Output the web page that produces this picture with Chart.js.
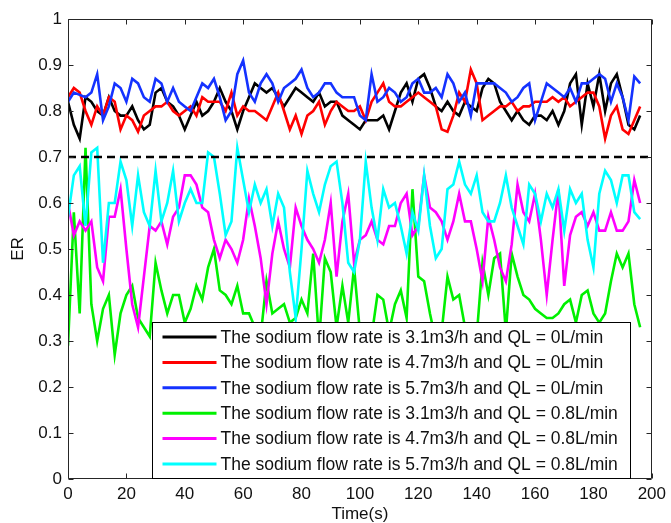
<!DOCTYPE html>
<html><head><meta charset="utf-8">
<script src="https://cdn.jsdelivr.net/npm/chart.js@4.4.1/dist/chart.umd.min.js"></script>
<style>html,body{margin:0;padding:0;background:#fff;overflow:hidden}</style>
</head><body>
<canvas id="c" width="671" height="523"></canvas>
<script>
const time = [0,2,4,6,8,10,12,14,16,18,20,22,24,26,28,30,32,34,36,38,40,42,44,46,48,50,52,54,56,58,60,62,64,66,68,70,72,74,76,78,80,82,84,86,88,90,92,94,96,98,100,102,104,106,108,110,112,114,116,118,120,122,124,126,128,130,132,134,136,138,140,142,144,146,148,150,152,154,156,158,160,162,164,166,168,170,172,174,176,178,180,182,184,186,188,190,192,194,196];

const black31 = [0.82,0.77,0.74,0.83,0.82,0.80,0.79,0.83,0.80,0.79,
0.79,0.81,0.78,0.76,0.77,0.84,0.85,0.82,0.81,0.79,
0.76,0.79,0.82,0.79,0.80,0.82,0.85,0.82,0.80,0.76,
0.80,0.83,0.86,0.85,0.84,0.85,0.83,0.81,0.83,0.85,
0.84,0.83,0.82,0.84,0.81,0.82,0.82,0.79,0.78,0.77,
0.76,0.78,0.78,0.78,0.79,0.76,0.80,0.84,0.86,0.82,
0.87,0.88,0.85,0.81,0.80,0.82,0.80,0.79,0.82,0.81,
0.80,0.85,0.87,0.86,0.82,0.80,0.78,0.80,0.78,0.77,
0.79,0.79,0.78,0.80,0.77,0.80,0.86,0.88,0.77,0.86,
0.81,0.88,0.80,0.86,0.88,0.83,0.77,0.76,0.79];

const red47 = [0.83,0.85,0.84,0.80,0.77,0.81,0.79,0.83,0.82,0.76,
0.79,0.78,0.755,0.79,0.80,0.81,0.81,0.82,0.80,0.79,
0.80,0.81,0.79,0.83,0.82,0.82,0.82,0.80,0.84,0.79,
0.81,0.80,0.80,0.79,0.78,0.81,0.84,0.80,0.76,0.79,
0.75,0.79,0.80,0.82,0.77,0.80,0.82,0.81,0.80,0.80,
0.81,0.78,0.82,0.84,0.86,0.82,0.81,0.81,0.82,0.83,
0.84,0.83,0.82,0.81,0.76,0.755,0.79,0.84,0.82,0.89,
0.86,0.78,0.79,0.80,0.81,0.81,0.82,0.80,0.81,0.81,
0.82,0.82,0.82,0.83,0.82,0.83,0.81,0.82,0.83,0.84,
0.84,0.81,0.74,0.79,0.81,0.76,0.75,0.78,0.81];

const blue57 = [0.82,0.84,0.835,0.83,0.84,0.88,0.78,0.81,0.86,0.85,
0.82,0.87,0.86,0.83,0.82,0.87,0.86,0.82,0.85,0.82,
0.81,0.80,0.83,0.86,0.85,0.87,0.83,0.78,0.80,0.88,
0.91,0.84,0.82,0.86,0.88,0.86,0.82,0.85,0.86,0.87,
0.89,0.85,0.83,0.84,0.86,0.86,0.84,0.83,0.83,0.83,
0.79,0.78,0.88,0.82,0.83,0.85,0.84,0.82,0.83,0.86,
0.87,0.84,0.84,0.85,0.83,0.88,0.86,0.82,0.84,0.79,
0.86,0.86,0.86,0.86,0.85,0.84,0.82,0.83,0.85,0.86,
0.78,0.82,0.86,0.85,0.84,0.83,0.85,0.82,0.86,0.86,
0.87,0.88,0.87,0.82,0.86,0.83,0.78,0.875,0.86];

const green31 = [0.29,0.58,0.36,0.72,0.38,0.30,0.37,0.40,0.27,0.36,
0.40,0.42,0.35,0.33,0.31,0.47,0.41,0.36,0.40,0.40,
0.34,0.37,0.42,0.39,0.46,0.50,0.41,0.40,0.38,0.42,
0.36,0.36,0.33,0.31,0.43,0.36,0.37,0.38,0.34,0.35,
0.39,0.36,0.49,0.30,0.48,0.45,0.33,0.42,0.34,0.46,
0.32,0.30,0.31,0.40,0.39,0.32,0.38,0.41,0.35,0.63,
0.44,0.43,0.36,0.30,0.32,0.44,0.39,0.40,0.33,0.30,
0.31,0.47,0.40,0.48,0.49,0.32,0.49,0.44,0.40,0.39,
0.37,0.36,0.35,0.35,0.36,0.38,0.39,0.34,0.40,0.41,
0.36,0.34,0.36,0.43,0.49,0.46,0.49,0.38,0.33];

const magenta47 = [0.60,0.53,0.56,0.54,0.56,0.46,0.43,0.57,0.57,0.63,
0.50,0.38,0.33,0.44,0.55,0.54,0.56,0.51,0.57,0.59,
0.66,0.66,0.64,0.59,0.58,0.52,0.48,0.52,0.50,0.47,
0.52,0.61,0.55,0.48,0.38,0.49,0.56,0.50,0.46,0.59,
0.55,0.52,0.50,0.47,0.52,0.60,0.44,0.56,0.62,0.47,
0.52,0.53,0.56,0.52,0.51,0.55,0.55,0.60,0.62,0.53,
0.55,0.66,0.59,0.58,0.56,0.52,0.56,0.62,0.56,0.56,
0.50,0.43,0.57,0.52,0.46,0.43,0.51,0.64,0.58,0.56,
0.62,0.52,0.40,0.52,0.63,0.42,0.53,0.57,0.58,0.55,
0.58,0.54,0.54,0.58,0.54,0.54,0.56,0.65,0.60];

const cyan57 = [0.57,0.66,0.68,0.55,0.71,0.72,0.47,0.60,0.60,0.69,
0.65,0.55,0.66,0.58,0.55,0.67,0.56,0.60,0.67,0.56,
0.60,0.63,0.60,0.60,0.71,0.70,0.62,0.53,0.56,0.72,
0.65,0.58,0.64,0.60,0.63,0.55,0.62,0.59,0.45,0.35,
0.50,0.67,0.62,0.58,0.64,0.68,0.69,0.60,0.47,0.45,
0.52,0.69,0.59,0.52,0.63,0.59,0.60,0.55,0.49,0.58,
0.54,0.66,0.55,0.48,0.50,0.63,0.64,0.69,0.64,0.62,
0.66,0.58,0.56,0.56,0.60,0.66,0.59,0.55,0.51,0.64,
0.62,0.56,0.62,0.59,0.63,0.54,0.63,0.60,0.62,0.52,
0.46,0.62,0.67,0.65,0.60,0.66,0.66,0.58,0.565];

const seriesLabels = [
  'The sodium flow rate is 3.1m3/h and QL = 0L/min',
  'The sodium flow rate is 4.7m3/h and QL = 0L/min',
  'The sodium flow rate is 5.7m3/h and QL = 0L/min',
  'The sodium flow rate is 3.1m3/h and QL = 0.8L/min',
  'The sodium flow rate is 4.7m3/h and QL = 0.8L/min',
  'The sodium flow rate is 5.7m3/h and QL = 0.8L/min'
];
const seriesColors = ['#000000','#ff0000','#1432ff','#00f000','#ff00ff','#00ffff'];
const xTickLabels = ['0','20','40','60','80','100','120','140','160','180','200'];
const yTickLabels = ['0','0.1','0.2','0.3','0.4','0.5','0.6','0.7','0.8','0.9','1'];
const xRange = [0, 200];
const thresholdER = 0.7;
const xTitle = 'Time(s)';
const yTitle = 'ER';

const FONT = '"Liberation Sans", Arial, Helvetica, sans-serif';
Chart.defaults.font.family = FONT;
Chart.defaults.font.size = 17;
Chart.defaults.color = '#111';

const allSeries = [black31, red47, blue57, green31, magenta47, cyan57];
const datasets = allSeries.map((arr, i) => ({
  label: seriesLabels[i],
  data: time.map((t, k) => ({x: t, y: arr[k]})),
  borderColor: seriesColors[i],
  backgroundColor: seriesColors[i],
  borderWidth: 2.6,
  pointRadius: 0,
  tension: 0,
  fill: false,
  order: 20 - i
}));
datasets.push({
  label: 'threshold',
  data: xRange.map(x => ({x: x, y: thresholdER})),
  borderColor: '#000',
  borderWidth: 2.6,
  borderDash: [8, 5],
  pointRadius: 0,
  fill: false,
  order: 0,
  isThreshold: true
});

const framePlugin = {
  id: 'matlabFrame',
  afterDatasetsDraw(chart) {
    const {ctx, chartArea: a, scales} = chart;
    const xs = scales.x, ys = scales.y;
    ctx.save();
    ctx.strokeStyle = '#262626';
    ctx.lineWidth = 1;
    ctx.beginPath();
    const L = Math.round(a.left) + 0.5, R = Math.round(a.right) - 0.5;
    const T = Math.round(a.top) + 0.5, B = Math.round(a.bottom) - 0.5;
    ctx.rect(L, T, R - L, B - T);
    const tl = 5;
    xs.ticks.forEach(t => {
      const px = Math.round(xs.getPixelForValue(t.value)) + 0.5;
      ctx.moveTo(px, B); ctx.lineTo(px, B - tl);
      ctx.moveTo(px, T); ctx.lineTo(px, T + tl);
    });
    ys.ticks.forEach(t => {
      const py = Math.round(ys.getPixelForValue(t.value)) + 0.5;
      ctx.moveTo(L, py); ctx.lineTo(L + tl, py);
      ctx.moveTo(R, py); ctx.lineTo(R - tl, py);
    });
    ctx.stroke();

    // legend box
    const lx = Math.round(a.left + 84) + 0.5;
    const ly = Math.round(a.bottom - 157) + 0.5;
    const lr = Math.round(a.left + 562) + 0.5;
    const lb = B;
    ctx.fillStyle = '#fff';
    ctx.fillRect(lx, ly, lr - lx, lb - ly);
    ctx.strokeStyle = '#000';
    ctx.strokeRect(lx, ly, lr - lx, lb - ly);
    ctx.font = '17.5px ' + FONT;
    ctx.textBaseline = 'middle';
    ctx.textAlign = 'left';
    chart.data.datasets.forEach((ds, i) => {
      if (ds.isThreshold) return;
      const cy = ly + 14.5 + i * 25.4;
      ctx.strokeStyle = ds.borderColor;
      ctx.lineWidth = 3;
      ctx.beginPath();
      ctx.moveTo(lx + 10, cy); ctx.lineTo(lx + 64, cy);
      ctx.stroke();
      ctx.fillStyle = '#111';
      ctx.fillText(ds.label, lx + 68, cy + 1);
    });
    ctx.restore();
  }
};

new Chart(document.getElementById('c'), {
  type: 'line',
  data: {datasets},
  options: {
    responsive: false,
    animation: false,
    devicePixelRatio: 1,
    layout: {padding: {top: 19, right: 16, left: 0, bottom: 0}},
    plugins: {legend: {display: false}, tooltip: {enabled: false}},
    scales: {
      x: {
        type: 'linear', min: xRange[0], max: xRange[1],
        grid: {display: false, drawTicks: false},
        border: {display: false},
        ticks: {stepSize: 20, padding: 5, maxRotation: 0, autoSkip: false,
          callback: (v, i) => xTickLabels[i]},
        title: {display: true, text: xTitle, padding: {top: 0, bottom: -2}, color: '#111'},
        afterFit: s => { s.height = 44; }
      },
      y: {
        type: 'linear', min: 0, max: 1,
        grid: {display: false, drawTicks: false},
        border: {display: false},
        ticks: {stepSize: 0.1, padding: 6, autoSkip: false,
          callback: (v, i) => yTickLabels[i]},
        title: {display: true, text: yTitle, padding: {top: 8, bottom: 0}, color: '#111'},
        afterFit: s => { s.width = 68; }
      }
    }
  },
  plugins: [framePlugin]
});
</script>
</body></html>
